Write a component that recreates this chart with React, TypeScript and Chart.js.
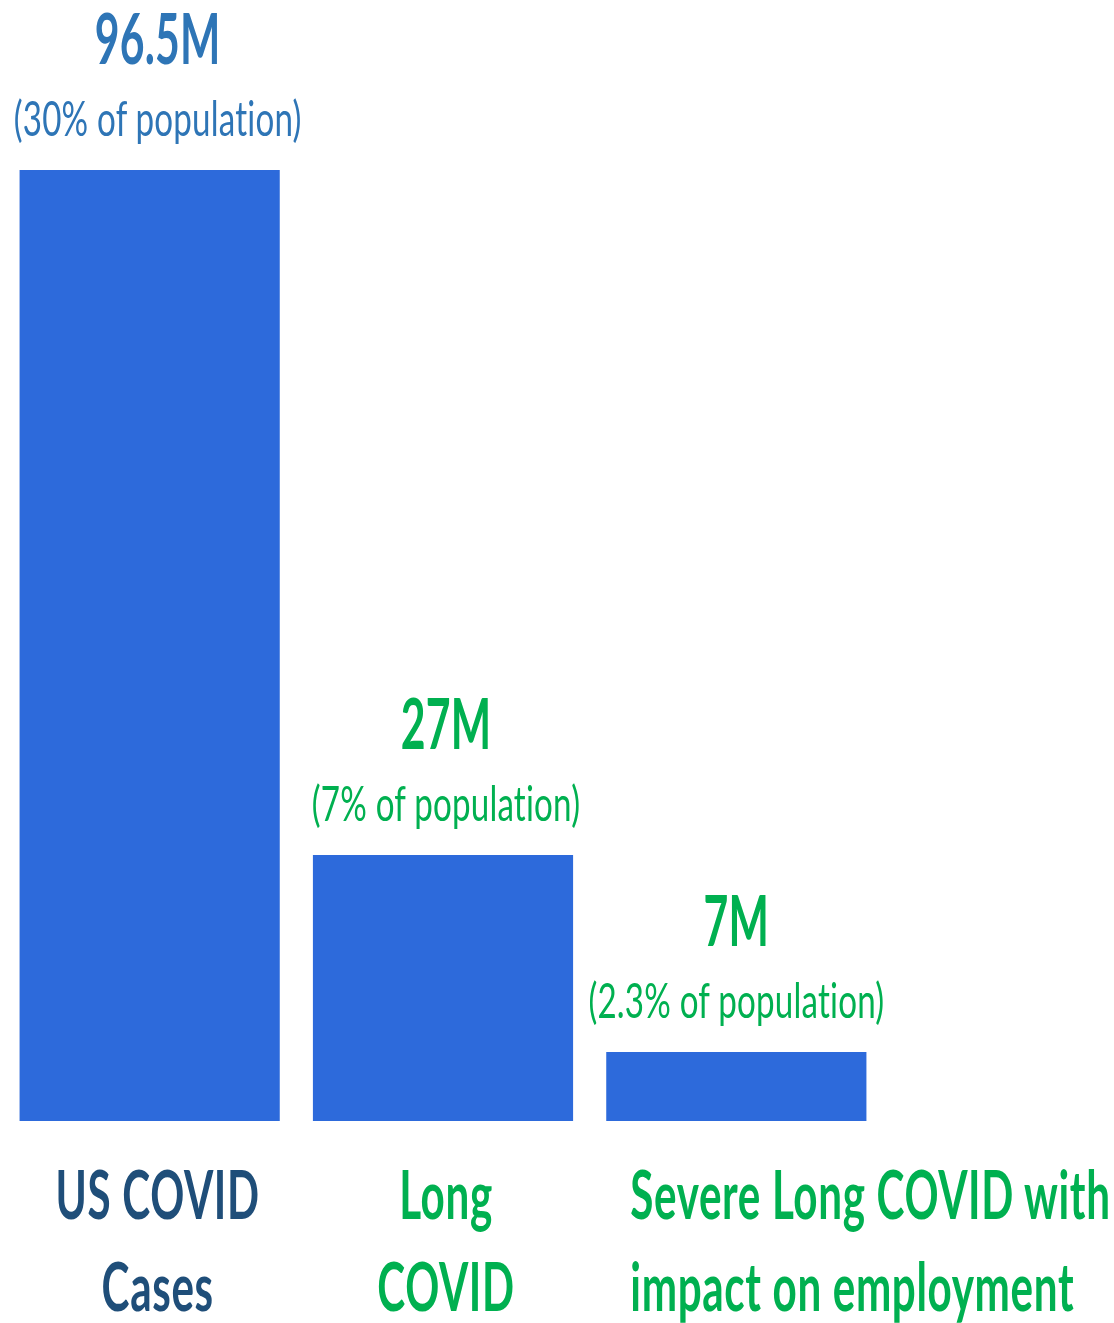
import React, { useEffect, useRef } from "react";
import { Chart, registerables } from "chart.js";

Chart.register(...registerables);

// Chart data
const categories: string[][] = [
  ["US COVID", "Cases"],
  ["Long", "COVID"],
  ["Severe Long COVID with", "impact on employment"],
];
const valuesMillions: number[] = [96.5, 27, 7];
const valueLabels: string[] = ["96.5M", "27M", "7M"];
const shareLabels: string[] = ["(30% of population)", "(7% of population)", "(2.3% of population)"];

// Styling
const BAR_COLOR = "#2D6ADB";
const valueColors = ["#2E75B6", "#00B050", "#00B050"];
const categoryColors = ["#1F4E79", "#00B050", "#00B050"];
const FONT = "Lato";

// Draw text squeezed horizontally (condensed look), ligatures off
function drawSqueezed(
  ctx: CanvasRenderingContext2D,
  text: string,
  x: number,
  y: number,
  font: string,
  color: string,
  sx: number,
  align: "center" | "left",
  spacing = 0.3
) {
  ctx.save();
  ctx.font = font;
  ctx.fillStyle = color;
  ctx.textBaseline = "alphabetic";
  ctx.textAlign = align;
  const c = ctx as any;
  c.letterSpacing = `${spacing}px`;
  c.textRendering = "optimizeLegibility";
  ctx.translate(x, y);
  ctx.scale(sx, 1);
  ctx.fillText(text, 0, 0);
  ctx.restore();
}

const labelPlugin = {
  id: "barLabels",
  afterDatasetsDraw(chart: any) {
    const ctx: CanvasRenderingContext2D = chart.ctx;
    const meta = chart.getDatasetMeta(0);
    const bottom = chart.chartArea.bottom;
    meta.data.forEach((bar: any, i: number) => {
      const top = bar.y;
      // first column's captions sit a little right of the bar's centre
      const cx = bar.x + (i === 0 ? 8 : i === 1 ? 3 : 0);
      drawSqueezed(ctx, valueLabels[i], cx, top - 106, `bold 70px ${FONT}`, valueColors[i], 0.61, "center");
      drawSqueezed(ctx, shareLabels[i], cx, top - 34, `48px ${FONT}`, valueColors[i], 0.69, "center");

      const lines = categories[i];
      const leftAligned = i === 2;
      const lx = leftAligned ? bar.x - 106 : cx;
      lines.forEach((line, j) => {
        drawSqueezed(
          ctx,
          line,
          lx,
          bottom + 98 + j * 92,
          `bold 67px ${FONT}`,
          categoryColors[i],
          0.63,
          leftAligned ? "left" : "center",
          1
        );
      });
    });
  },
};

export default function App() {
  const canvasRef = useRef<HTMLCanvasElement | null>(null);

  useEffect(() => {
    document.body.style.margin = "0";
    const canvas = canvasRef.current;
    if (!canvas) return;
    const chart = new Chart(canvas, {
      type: "bar",
      data: {
        labels: categories.map((c) => c.join(" ")),
        datasets: [
          {
            data: valuesMillions,
            backgroundColor: BAR_COLOR,
            borderWidth: 0,
            categoryPercentage: 1,
            barPercentage: 0.887,
          },
        ],
      },
      options: {
        responsive: false,
        animation: false,
        devicePixelRatio: 1,
        layout: { padding: { top: 170, bottom: 202, left: 3, right: 231 } },
        plugins: { legend: { display: false }, tooltip: { enabled: false } },
        scales: {
          x: { display: false },
          y: { display: false, min: 0, max: 96.5 },
        },
      },
      plugins: [labelPlugin],
    });
    return () => chart.destroy();
  }, []);

  return (
    <div style={{ width: 1114, height: 1323, background: "#ffffff" }}>
      <canvas ref={canvasRef} width={1114} height={1323} style={{ display: "block" }} />
    </div>
  );
}
